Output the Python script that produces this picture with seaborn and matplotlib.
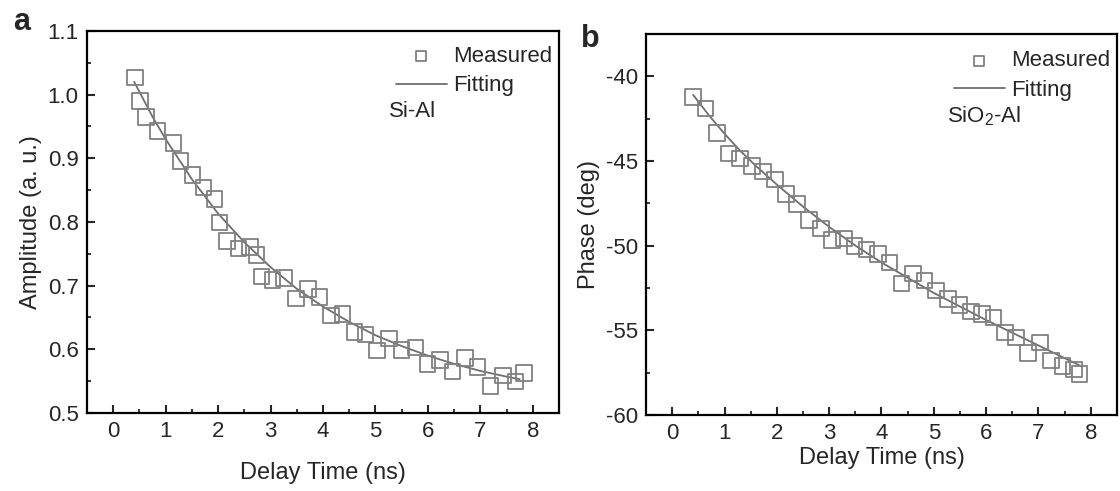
import numpy as np
import pandas as pd
import seaborn as sns
import matplotlib
matplotlib.use('Agg')
import matplotlib.pyplot as plt
from matplotlib.ticker import MultipleLocator, FormatStrFormatter

# Datos leidos de la figura
# panel a: amplitud Si-Al
t_amp = [0.41, 0.51, 0.62, 0.84, 1.15, 1.28, 1.51, 1.72, 1.93, 2.03, 2.17, 2.39,
         2.61, 2.73, 2.83, 3.04, 3.26, 3.49, 3.71, 3.93, 4.15, 4.37, 4.60, 4.81,
         5.03, 5.26, 5.50, 5.76, 5.99, 6.23, 6.47, 6.71, 6.95, 7.19, 7.43, 7.67, 7.83]
amp_meas = [1.027, 0.990, 0.965, 0.943, 0.924, 0.896, 0.874, 0.854, 0.836, 0.799,
            0.770, 0.758, 0.761, 0.748, 0.714, 0.709, 0.712, 0.680, 0.695, 0.682,
            0.653, 0.655, 0.627, 0.623, 0.598, 0.617, 0.599, 0.603, 0.577, 0.583,
            0.565, 0.586, 0.572, 0.542, 0.559, 0.549, 0.563]
t_amp_fit = [0.4, 0.75, 1.0, 1.5, 2.0, 2.5, 3.0, 3.5, 4.0, 4.5, 5.0, 5.5, 6.0,
             6.5, 7.0, 7.5, 7.75]
amp_fit = [1.020, 0.965, 0.930, 0.867, 0.813, 0.768, 0.729, 0.695, 0.667, 0.643,
           0.622, 0.605, 0.590, 0.577, 0.566, 0.557, 0.553]

# panel b: fase SiO2-Al
t_ph = [0.40, 0.64, 0.86, 1.08, 1.30, 1.53, 1.74, 1.96, 2.18, 2.39, 2.61, 2.84,
        3.05, 3.28, 3.48, 3.71, 3.93, 4.15, 4.38, 4.60, 4.82, 5.04, 5.27, 5.49,
        5.71, 5.92, 6.14, 6.36, 6.57, 6.80, 7.03, 7.24, 7.46, 7.68, 7.78]
ph_meas = [-41.22, -41.91, -43.34, -44.56, -44.86, -45.31, -45.64, -46.10, -46.96,
           -47.55, -48.50, -48.99, -49.68, -49.58, -50.03, -50.23, -50.50, -50.99,
           -52.23, -51.64, -52.07, -52.66, -53.16, -53.51, -53.90, -54.04, -54.24,
           -55.14, -55.42, -56.36, -55.73, -56.79, -57.11, -57.31, -57.58]
t_ph_fit = [0.4, 0.7, 1.0, 1.3, 1.6, 2.0, 2.5, 3.0, 3.5, 4.0, 4.5, 5.0, 5.5, 6.0,
            6.5, 7.0, 7.5, 7.8]
ph_fit = [-41.1, -42.3, -43.4, -44.4, -45.3, -46.4, -47.7, -48.9, -50.0, -51.0,
          -51.9, -52.8, -53.6, -54.4, -55.15, -55.9, -56.65, -57.1]

sns.set_style('ticks')
plt.rcParams['font.family'] = ['Liberation Sans', 'DejaVu Sans']
plt.rcParams['mathtext.fontset'] = 'custom'
plt.rcParams['mathtext.rm'] = 'Liberation Sans'
plt.rcParams['axes.unicode_minus'] = False

gris = '#808080'
linea = '#6e6e6e'

fig = plt.figure(figsize=(11.2, 4.91), dpi=100)
ax1 = fig.add_axes([0.0777, 0.159, 0.4214, 0.778])
ax2 = fig.add_axes([0.5768, 0.155, 0.4205, 0.776])


def dibujar(ax, t, y, tf, yf, etiqueta, y_leg, y_txt):
    df = pd.DataFrame({'t': t, 'y': y})
    dff = pd.DataFrame({'t': tf, 'y': yf})
    sns.scatterplot(data=df, x='t', y='y', ax=ax, marker='s', s=125,
                    facecolor='none', edgecolor=gris, linewidth=1.3,
                    label='Measured', zorder=3)
    sns.lineplot(data=dff, x='t', y='y', ax=ax, color=linea, linewidth=1.3,
                 label='Fitting', zorder=2)
    ax.set_xlim(-0.5, 8.5)
    ax.xaxis.set_major_locator(MultipleLocator(1))
    ax.xaxis.set_minor_locator(MultipleLocator(0.5))
    for s in ax.spines.values():
        s.set_linewidth(1.6)
        s.set_color('black')
    ax.tick_params(which='major', direction='in', length=5.5, width=1.5,
                   labelsize=16, top=False, right=False, pad=6)
    ax.tick_params(which='minor', direction='in', length=3, width=1.3,
                   top=False, right=False)
    ax.legend(loc='upper right', frameon=False, fontsize=16,
              handlelength=2.3, handletextpad=0.3, labelspacing=0.4,
              borderaxespad=0.0, markerscale=0.65,
              bbox_to_anchor=(1.005, y_leg))
    ax.text(0.64, y_txt, etiqueta, transform=ax.transAxes, fontsize=16,
            ha='left', va='center')


dibujar(ax1, t_amp, amp_meas, t_amp_fit, amp_fit, 'Si-Al', 0.985, 0.79)
ax1.set_ylim(0.5, 1.1)
ax1.yaxis.set_major_locator(MultipleLocator(0.1))
ax1.yaxis.set_minor_locator(MultipleLocator(0.05))
ax1.yaxis.set_major_formatter(FormatStrFormatter('%.1f'))
ax1.set_xlabel('Delay Time (ns)', fontsize=17, labelpad=14)
ax1.set_ylabel('Amplitude (a. u.)', fontsize=17, labelpad=4)

dibujar(ax2, t_ph, ph_meas, t_ph_fit, ph_fit, r'SiO$_\mathregular{2}$-Al',
        0.98, 0.785)
ax2.set_ylim(-60, -37.5)
ax2.yaxis.set_major_locator(MultipleLocator(5))
ax2.yaxis.set_minor_locator(MultipleLocator(2.5))
ax2.set_xlabel('Delay Time (ns)', fontsize=17, labelpad=2)
ax2.set_ylabel('Phase (deg)', fontsize=17, labelpad=4)

fig.text(0.012, 0.955, 'a', fontsize=22, fontweight='bold', va='center')
fig.text(0.519, 0.92, 'b', fontsize=22, fontweight='bold', va='center')

plt.savefig('out.png', dpi=100)
